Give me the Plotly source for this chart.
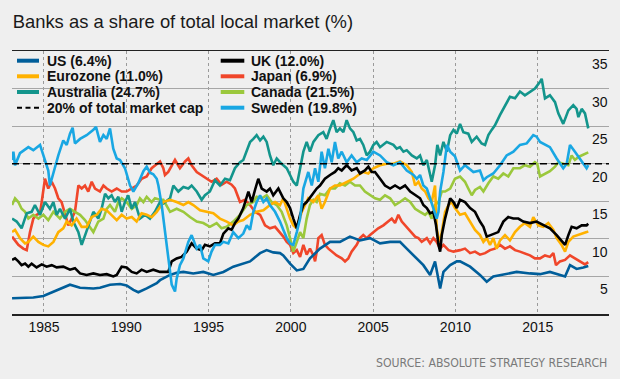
import plotly.graph_objects as go

# ---------------- data ----------------
title_text = "Banks as a share of total local market (%)"
source_text = "SOURCE: ABSOLUTE STRATEGY RESEARCH"
x_tick_years = [1985, 1990, 1995, 2000, 2005, 2010, 2015]
x_tick_labels = ["1985", "1990", "1995", "2000", "2005", "2010", "2015"]
y_tick_values = [5, 10, 15, 20, 25, 30, 35]
threshold = 20
threshold_label = "20% of total market cap"

us_years = [1983.06, 1984.35, 1984.96, 1985.57, 1986.38, 1986.58, 1987.19, 1988.0, 1988.4, 1989.01, 1989.62, 1990.02, 1990.43, 1990.73, 1991.24, 1991.85,
            1992.05, 1992.66, 1993.06, 1993.47, 1994.07, 1994.68, 1995.29, 1995.9, 1996.5, 1997.11, 1997.52, 1998.13, 1998.53, 1998.93, 1999.34, 1999.54, 1999.95, 2000.36, 2000.76,
            2001.16, 2001.77, 2002.38, 2002.98, 2003.59, 2004.2, 2004.81, 2005.42, 2006.03, 2006.63, 2007.04, 2007.65, 2008.05, 2008.46, 2008.76, 2009.07, 2009.27, 2009.68, 2010.08,
            2010.28, 2010.89, 2011.49, 2011.9, 2012.3, 2012.91, 2013.72, 2014.53, 2015.14, 2015.74, 2016.35, 2016.66, 2016.96, 2017.36, 2017.77, 2018.07]
us_values = [2.1, 2.2, 2.4, 3.0, 3.8, 3.9, 3.5, 3.4, 3.5, 3.9, 4.0, 3.8, 3.2, 2.9, 3.4, 4.1,
             4.5, 5.2, 5.5, 5.6, 5.4, 5.6, 5.2, 5.6, 6.3, 6.7, 7.0, 8.1, 8.5, 8.2, 8.1, 7.8, 6.7, 5.8, 6.0,
             7.4, 8.7, 9.6, 9.6, 10.3, 9.8, 10.1, 9.4, 9.6, 9.6, 8.7, 7.4, 6.5, 5.2, 7.0, 3.4, 5.6, 6.5, 7.0,
             7.0, 6.3, 5.2, 4.3, 5.0, 5.3, 5.6, 5.4, 5.3, 5.6, 5.2, 5.0, 6.5, 6.0, 6.2, 6.4]

uk_years = [1983.06, 1983.24, 1983.44, 1983.64, 1983.85, 1984.05, 1984.25, 1984.55, 1984.86, 1985.16, 1985.47, 1985.77, 1986.17, 1986.58, 1986.88, 1987.19, 1987.59, 1988.0, 1988.4, 1988.81, 1989.21, 1989.42, 1989.72, 1990.02, 1990.33, 1990.63, 1990.93, 1991.24, 1991.64,
            1992.05, 1992.55, 1992.76, 1993.06, 1993.36, 1993.67, 1993.97, 1994.28, 1994.58, 1994.78, 1995.08, 1995.39, 1995.69, 1995.9, 1996.2, 1996.4, 1996.6, 1996.81, 1997.11, 1997.42, 1997.62, 1997.82, 1998.02, 1998.23, 1998.53, 1998.73, 1998.93, 1999.24, 1999.54, 1999.75, 1999.95, 2000.15, 2000.36, 2000.56, 2000.76, 2000.96,
            2001.27, 2001.57, 2001.77, 2002.07, 2002.38, 2002.68, 2002.88, 2003.09, 2003.39, 2003.69, 2004.0, 2004.2, 2004.5, 2004.71, 2004.91, 2005.11, 2005.42, 2005.72, 2006.03, 2006.33, 2006.63, 2006.94, 2007.25, 2007.55, 2007.85, 2008.05, 2008.26, 2008.46, 2008.66, 2008.82, 2008.97, 2009.07, 2009.17, 2009.37, 2009.68, 2009.88,
            2010.08, 2010.28, 2010.58, 2010.89, 2011.19, 2011.49, 2011.7, 2011.9, 2012.1, 2012.3, 2012.6, 2012.91, 2013.21, 2013.52, 2013.82, 2014.12, 2014.53, 2014.93, 2015.34, 2015.74, 2016.15, 2016.45, 2016.66, 2016.86, 2017.06, 2017.36, 2017.67, 2017.97, 2018.07]
uk_values = [7.2, 7.4, 7.0, 6.5, 6.7, 6.3, 6.7, 6.2, 6.6, 6.3, 6.5, 6.2, 6.3, 5.9, 6.1, 5.4, 5.2, 5.4, 5.2, 5.3, 5.0, 5.2, 6.3, 6.2, 5.6, 5.4, 5.9, 5.6, 5.9,
             5.6, 5.6, 7.0, 7.4, 7.6, 8.3, 9.4, 8.7, 8.5, 9.2, 9.0, 9.4, 9.4, 10.7, 11.4, 11.2, 12.1, 12.7, 14.1, 16.3, 14.9, 16.5, 18.0, 16.7, 16.3, 16.7, 15.8, 16.7, 15.4, 14.9, 14.1, 12.7, 11.4, 13.2, 14.5, 14.9,
             15.8, 16.7, 17.1, 18.0, 18.5, 18.9, 19.4, 19.1, 19.8, 19.1, 19.4, 18.7, 19.1, 19.6, 18.9, 18.9, 18.0, 17.1, 16.7, 17.1, 16.7, 17.1, 16.3, 15.8, 15.4, 14.5, 14.1, 13.4, 13.6, 11.8, 9.2, 8.3, 10.5, 12.7, 15.4, 14.9,
             14.1, 15.2, 14.9, 14.1, 13.6, 12.3, 11.6, 10.3, 10.5, 10.7, 10.9, 12.3, 12.9, 12.7, 12.7, 12.3, 12.1, 12.3, 11.8, 11.4, 10.5, 9.8, 9.2, 10.5, 11.6, 11.4, 11.8, 11.8, 12.0]

eurozone_years = [1983.06, 1983.24, 1983.54, 1983.85, 1984.05, 1984.35, 1984.66, 1984.96, 1985.26, 1985.57, 1985.87, 1986.17, 1986.38, 1986.68, 1986.98, 1987.29, 1987.59, 1987.9, 1988.2, 1988.5, 1988.81, 1989.11, 1989.42, 1989.72, 1990.02, 1990.33, 1990.63, 1990.93, 1991.24, 1991.54,
                  1991.85, 1992.25, 1992.66, 1993.06, 1993.47, 1993.77, 1994.07, 1994.48, 1994.88, 1995.29, 1995.69, 1996.1, 1996.5, 1996.81, 1997.11, 1997.52, 1997.92, 1998.33, 1998.73, 1999.04, 1999.34, 1999.54, 1999.75, 1999.95, 2000.15, 2000.36, 2000.66,
                  2000.86, 2001.06, 2001.37, 2001.67, 2001.87, 2002.07, 2002.38, 2002.68, 2002.98, 2003.39, 2003.8, 2004.1, 2004.4, 2004.71, 2005.01, 2005.42, 2005.82, 2006.23, 2006.63, 2007.04, 2007.35, 2007.55, 2007.75, 2007.95, 2008.16, 2008.36, 2008.56, 2008.76, 2008.86, 2008.97, 2009.07, 2009.17, 2009.37, 2009.58, 2009.78,
                  2009.97, 2010.28, 2010.58, 2010.89, 2011.19, 2011.49, 2011.7, 2011.9, 2012.1, 2012.3, 2012.5, 2012.71, 2013.01, 2013.31, 2013.62, 2013.92, 2014.22, 2014.53, 2014.73, 2015.03, 2015.34, 2015.64, 2015.95, 2016.15, 2016.45, 2016.66, 2016.86, 2017.16, 2017.47, 2017.77, 2017.97, 2018.07]
eurozone_values = [10.9, 11.2, 10.1, 9.4, 9.6, 10.3, 9.6, 9.2, 9.0, 9.6, 10.9, 11.4, 12.3, 11.8, 12.7, 11.6, 11.6, 12.9, 13.2, 14.0, 13.8, 13.2, 12.5, 13.2, 12.7, 12.9, 12.3, 13.4, 13.2, 12.9,
                   13.6, 14.9, 15.2, 14.9, 14.5, 14.9, 14.5, 13.8, 13.6, 13.4, 12.7, 12.3, 11.8, 12.3, 12.5, 13.2, 13.6, 13.8, 14.5, 14.9, 14.5, 15.4, 14.0, 12.7, 11.8, 11.4, 13.6,
                   14.5, 15.4, 14.9, 15.8, 14.0, 14.9, 16.7, 17.1, 17.1, 17.6, 18.0, 18.5, 18.9, 18.7, 19.4, 19.8, 20.0, 20.0, 20.3, 19.8, 18.9, 17.1, 17.6, 16.7, 16.3, 15.4, 14.9, 17.1, 11.4, 10.1, 9.6, 10.9, 13.6, 14.5, 14.9,
                   14.1, 13.2, 13.4, 12.3, 11.2, 10.5, 9.6, 10.1, 9.2, 10.1, 8.7, 9.8, 10.5, 9.8, 10.9, 11.6, 12.1, 11.6, 12.9, 11.8, 11.6, 12.1, 11.2, 10.1, 9.2, 8.3, 9.6, 10.3, 10.5, 10.7, 10.9, 11.0]

japan_years = [1983.06, 1983.24, 1983.44, 1983.74, 1983.95, 1984.15, 1984.35, 1984.55, 1984.76, 1984.86, 1985.06, 1985.26, 1985.47, 1985.67, 1985.87, 1986.07, 1986.28, 1986.48, 1986.68, 1986.88, 1987.09, 1987.29, 1987.49, 1987.69, 1987.9, 1988.1, 1988.4, 1988.61, 1988.81, 1989.11, 1989.42, 1989.72, 1990.02, 1990.33, 1990.63, 1990.93, 1991.24, 1991.54, 1991.74,
               1992.05, 1992.25, 1992.35, 1992.55, 1992.76, 1992.96, 1993.26, 1993.57, 1993.77, 1993.97, 1994.28, 1994.58, 1994.88, 1995.18, 1995.49, 1995.79, 1996.1, 1996.4, 1996.6, 1996.91, 1997.21, 1997.52, 1997.82, 1998.13, 1998.43, 1998.73, 1999.04, 1999.34, 1999.54, 1999.75, 1999.95, 2000.15, 2000.36, 2000.56,
               2000.76, 2000.96, 2001.16, 2001.37, 2001.47, 2001.57, 2001.67, 2001.87, 2002.07, 2002.28, 2002.48, 2002.78, 2003.09, 2003.29, 2003.49, 2003.69, 2004.0, 2004.2, 2004.4, 2004.61, 2004.81, 2005.01, 2005.31, 2005.62, 2005.92, 2006.13, 2006.33, 2006.53, 2006.74, 2006.94, 2007.25, 2007.55, 2007.75, 2007.95, 2008.26, 2008.46, 2008.66, 2008.86, 2009.07, 2009.27, 2009.58, 2009.88,
               2010.28, 2010.58, 2010.89, 2011.19, 2011.49, 2011.8, 2012.1, 2012.4, 2012.71, 2013.01, 2013.31, 2013.62, 2013.92, 2014.22, 2014.53, 2014.83, 2015.14, 2015.44, 2015.74, 2015.95, 2016.11, 2016.35, 2016.66, 2016.96, 2017.26, 2017.57, 2017.87, 2018.07]
japan_values = [10.3, 9.8, 9.2, 8.7, 8.5, 10.9, 12.7, 13.2, 13.4, 14.9, 18.0, 16.7, 17.6, 16.7, 15.4, 14.9, 13.2, 11.8, 12.7, 13.6, 17.1, 16.7, 17.1, 16.3, 17.6, 16.7, 16.3, 17.1, 16.7, 16.3, 16.7, 16.3, 16.3, 16.7, 17.1, 18.0, 18.3, 19.4, 19.8,
                20.3, 19.4, 18.5, 18.9, 19.8, 20.5, 19.4, 20.3, 20.7, 19.8, 18.9, 18.5, 18.0, 17.6, 18.0, 17.2, 17.6, 17.2, 16.7, 14.9, 15.2, 14.5, 13.6, 13.2, 11.8, 11.4, 11.6, 10.9, 10.3, 9.6, 9.2, 8.1, 8.5, 7.6,
                9.2, 7.9, 8.7, 7.8, 7.0, 8.3, 10.1, 10.5, 9.2, 8.7, 8.3, 7.8, 7.4, 7.0, 7.4, 8.3, 9.2, 10.1, 10.5, 10.1, 10.5, 10.9, 11.4, 11.8, 12.3, 12.7, 12.1, 13.2, 12.3, 11.8, 10.9, 10.3, 10.1, 9.6, 10.1, 9.4, 10.1, 9.6, 8.7, 9.2, 8.5, 8.3,
                8.5, 8.7, 8.1, 8.3, 7.9, 8.1, 8.5, 8.7, 9.2, 8.7, 9.0, 8.5, 8.3, 8.1, 7.8, 7.4, 7.4, 7.8, 7.6, 8.1, 6.5, 7.0, 7.2, 7.8, 7.4, 7.0, 6.6, 6.9]

australia_years = [1983.06, 1983.34, 1983.64, 1983.95, 1984.25, 1984.45, 1984.76, 1985.06, 1985.36, 1985.57, 1985.77, 1985.97, 1986.28, 1986.58, 1986.78, 1987.09, 1987.29, 1987.49, 1987.69, 1988.0, 1988.3, 1988.5, 1988.71, 1988.91, 1989.11, 1989.31, 1989.52, 1989.72, 1989.92, 1990.12, 1990.33, 1990.53, 1990.83, 1991.14, 1991.44, 1991.74, 1992.05,
                   1992.25, 1992.66, 1992.86, 1993.16, 1993.47, 1993.77, 1993.97, 1994.28, 1994.58, 1994.78, 1995.08, 1995.39, 1995.69, 1996.0, 1996.3, 1996.6, 1996.91, 1997.11, 1997.32, 1997.52, 1997.72, 1997.92, 1998.13, 1998.33, 1998.53, 1998.73, 1998.93, 1999.14, 1999.34, 1999.54, 1999.75, 1999.95, 2000.15, 2000.36, 2000.56, 2000.76, 2000.96,
                   2001.16, 2001.37, 2001.67, 2001.97, 2002.17, 2002.38, 2002.58, 2002.78, 2002.98, 2003.19, 2003.39, 2003.59, 2003.8, 2004.0, 2004.2, 2004.4, 2004.61, 2004.81, 2005.01, 2005.21, 2005.42, 2005.82, 2006.23, 2006.43, 2006.63, 2006.84, 2007.04, 2007.35, 2007.65, 2007.85, 2008.05, 2008.26, 2008.46, 2008.56, 2008.76, 2008.9, 2009.07, 2009.27, 2009.48, 2009.68,
                   2009.88, 2010.08, 2010.28, 2010.48, 2010.78, 2010.99, 2011.29, 2011.59, 2011.8, 2012.0, 2012.2, 2012.4, 2012.71, 2013.01, 2013.31, 2013.62, 2013.92, 2014.22, 2014.53, 2014.83, 2015.14, 2015.24, 2015.44, 2015.74, 2016.05, 2016.25, 2016.55, 2016.86, 2017.16, 2017.36, 2017.47, 2017.67, 2017.87, 2018.07]
australia_values = [12.7, 12.3, 11.4, 13.4, 13.6, 14.5, 13.2, 14.9, 14.0, 14.9, 13.2, 14.0, 12.7, 14.0, 12.3, 10.9, 9.2, 10.5, 11.8, 13.6, 12.7, 14.0, 16.0, 15.4, 15.8, 14.9, 15.6, 13.6, 14.9, 15.8, 14.0, 14.9, 12.7, 13.2, 12.7, 13.6, 14.9,
                    14.7, 15.4, 17.1, 16.3, 16.9, 16.7, 17.1, 16.3, 15.2, 15.8, 16.3, 17.8, 17.1, 18.0, 17.8, 19.4, 20.2, 20.5, 21.6, 22.9, 23.3, 23.8, 23.1, 23.6, 22.9, 21.1, 19.8, 20.7, 20.2, 19.8, 19.4, 18.5, 17.6, 17.1, 19.4, 21.6, 22.9,
                    21.6, 22.9, 23.8, 24.2, 23.3, 24.7, 25.8, 24.2, 24.7, 24.2, 25.8, 24.7, 24.2, 23.1, 23.3, 22.5, 21.1, 21.6, 22.5, 22.9, 22.2, 22.9, 22.5, 22.0, 22.2, 21.6, 21.8, 21.1, 20.7, 21.1, 19.8, 20.5, 18.5, 17.6, 19.8, 22.5, 21.1, 22.9, 21.6, 23.8,
                    24.5, 24.0, 25.3, 24.2, 24.0, 22.9, 23.6, 22.7, 22.5, 23.8, 24.5, 25.1, 26.5, 27.8, 28.9, 28.7, 29.6, 29.1, 29.6, 30.0, 30.9, 31.3, 28.7, 29.1, 28.2, 26.7, 25.3, 27.1, 27.8, 27.3, 26.2, 27.3, 26.7, 24.7]

canada_years = [1983.06, 1983.24, 1983.44, 1983.64, 1983.85, 1984.05, 1984.35, 1984.66, 1984.96, 1985.26, 1985.57, 1985.97, 1986.28, 1986.58, 1986.88, 1987.19, 1987.49, 1987.69, 1988.0, 1988.3, 1988.61, 1988.81, 1989.01, 1989.31, 1989.52, 1989.72, 1990.02, 1990.33, 1990.63, 1990.83, 1991.04, 1991.24, 1991.54, 1991.74,
                1992.05, 1992.25, 1992.66, 1993.06, 1993.47, 1993.87, 1994.28, 1994.68, 1995.08, 1995.49, 1995.79, 1996.1, 1996.5, 1996.91, 1997.32, 1997.72, 1997.92, 1998.23, 1998.53, 1998.83, 1999.14, 1999.44, 1999.75, 1999.95, 2000.15, 2000.36, 2000.56, 2000.76,
                2000.96, 2001.16, 2001.37, 2001.57, 2001.77, 2002.07, 2002.38, 2002.68, 2002.98, 2003.29, 2003.59, 2003.9, 2004.2, 2004.5, 2004.81, 2005.11, 2005.42, 2005.72, 2006.03, 2006.33, 2006.63, 2006.94, 2007.25, 2007.55, 2007.85, 2008.16, 2008.36, 2008.56, 2008.76, 2008.97, 2009.17, 2009.37, 2009.68,
                2009.97, 2010.28, 2010.58, 2010.78, 2010.99, 2011.19, 2011.49, 2011.7, 2012.0, 2012.3, 2012.6, 2012.91, 2013.21, 2013.52, 2013.92, 2014.22, 2014.53, 2014.83, 2014.97, 2015.14, 2015.44, 2015.74, 2016.05, 2016.25, 2016.55, 2016.86, 2017.06, 2017.26, 2017.47, 2017.67, 2017.87, 2018.07]
canada_values = [14.5, 15.4, 14.9, 14.0, 13.6, 12.7, 13.2, 12.7, 13.2, 12.5, 13.6, 12.7, 13.6, 14.0, 13.6, 13.2, 12.5, 11.8, 10.9, 12.3, 12.7, 14.0, 14.5, 13.6, 14.9, 15.4, 14.9, 14.0, 14.5, 15.4, 14.9, 15.6, 14.9, 15.4,
                 15.2, 15.2, 13.6, 14.0, 13.6, 12.9, 12.3, 12.1, 11.6, 12.1, 11.4, 11.6, 12.3, 13.2, 14.5, 14.9, 15.6, 15.4, 15.8, 14.9, 14.5, 13.6, 11.8, 10.1, 8.3, 9.6, 10.9, 10.1,
                 12.7, 14.5, 15.2, 14.9, 16.0, 15.8, 16.7, 16.7, 17.4, 17.1, 17.6, 17.1, 17.1, 16.3, 15.8, 15.4, 15.2, 15.8, 15.4, 14.5, 14.9, 15.4, 14.9, 14.0, 13.6, 13.2, 13.6, 12.7, 14.5, 14.9, 16.3, 16.3, 16.7,
                 18.0, 18.3, 17.6, 16.7, 15.8, 16.5, 16.9, 16.3, 17.4, 18.3, 18.0, 18.7, 18.3, 19.4, 19.4, 19.8, 19.6, 20.2, 20.0, 18.3, 18.7, 19.0, 19.6, 20.2, 20.0, 19.8, 21.1, 20.5, 20.9, 21.1, 21.3, 21.5]

sweden_years = [1983.06, 1983.14, 1983.24, 1983.54, 1984.05, 1984.35, 1984.76, 1984.96, 1985.26, 1985.36, 1985.57, 1985.87, 1986.17, 1986.38, 1986.58, 1986.74, 1986.88, 1987.19, 1987.59, 1988.0, 1988.16, 1988.4, 1988.61, 1988.81, 1989.01, 1989.21, 1989.42, 1989.62, 1989.92, 1990.23, 1990.43, 1990.73, 1991.04, 1991.24, 1991.44, 1991.64, 1991.85, 1991.95,
                1992.15, 1992.35, 1992.55, 1992.76, 1992.96, 1993.06, 1993.26, 1993.47, 1993.77, 1993.97, 1994.28, 1994.48, 1994.68, 1994.98, 1995.18, 1995.39, 1995.69, 1995.9, 1996.2, 1996.5, 1996.81, 1997.11, 1997.32, 1997.52, 1997.72, 1997.92, 1998.13, 1998.33, 1998.53, 1998.73, 1999.04, 1999.34, 1999.54, 1999.75, 1999.95, 2000.15, 2000.36, 2000.56, 2000.76, 2000.96,
                2001.06, 2001.27, 2001.47, 2001.67, 2001.87, 2002.07, 2002.28, 2002.48, 2002.68, 2002.88, 2003.09, 2003.39, 2003.69, 2004.0, 2004.3, 2004.61, 2004.81, 2005.01, 2005.42, 2005.82, 2006.23, 2006.63, 2007.04, 2007.45, 2007.65, 2007.85, 2008.05, 2008.26, 2008.46, 2008.66, 2008.86, 2008.97, 2009.07, 2009.27, 2009.48, 2009.68,
                2009.97, 2010.28, 2010.58, 2011.09, 2011.49, 2011.7, 2011.9, 2012.3, 2012.71, 2013.11, 2013.52, 2013.92, 2014.33, 2014.73, 2014.93, 2015.14, 2015.54, 2015.74, 2016.15, 2016.55, 2016.76, 2016.96, 2017.26, 2017.57, 2017.77, 2017.97, 2018.07]
sweden_values = [20.5, 21.6, 19.8, 21.4, 22.2, 21.8, 22.5, 21.1, 19.1, 17.1, 18.9, 21.1, 23.1, 22.5, 24.0, 24.8, 22.7, 23.3, 23.8, 24.5, 24.9, 22.9, 23.8, 23.3, 24.7, 22.0, 20.7, 20.5, 19.4, 17.1, 16.3, 17.4, 19.0, 19.6, 18.8, 18.6, 18.0, 17.1,
                 14.5, 10.9, 7.4, 3.9, 3.0, 4.7, 6.5, 7.4, 9.6, 10.5, 8.7, 9.2, 7.4, 7.0, 8.3, 9.2, 9.2, 9.6, 9.4, 10.9, 10.1, 10.7, 11.8, 11.2, 13.6, 14.9, 15.8, 14.9, 15.4, 14.5, 13.6, 12.3, 11.2, 10.1, 9.4, 9.2, 10.9, 12.7, 16.7, 18.0,
                 18.9, 17.1, 19.4, 17.6, 21.6, 19.4, 22.0, 20.2, 22.9, 20.7, 21.6, 20.2, 21.1, 20.2, 20.7, 20.5, 21.1, 21.6, 21.1, 20.2, 19.8, 20.2, 19.1, 18.5, 18.0, 18.5, 17.1, 16.7, 15.4, 14.0, 12.7, 13.6, 16.3, 18.9, 22.5, 21.6,
                 21.0, 19.1, 19.8, 18.9, 19.1, 17.8, 18.2, 18.7, 19.8, 21.1, 21.6, 22.5, 22.7, 23.8, 23.6, 22.9, 22.5, 22.2, 20.7, 19.4, 20.0, 22.5, 21.6, 20.7, 20.0, 19.4, 19.8]

# legend entries, in the reference's two-column order
series = [
    # (label, years, values, colour)
    ("US (6.4%)", us_years, us_values, "#005e9a"),
    ("UK (12.0%)", uk_years, uk_values, "#000000"),
    ("Eurozone (11.0%)", eurozone_years, eurozone_values, "#ffb100"),
    ("Japan (6.9%)", japan_years, japan_values, "#f0462a"),
    ("Australia (24.7%)", australia_years, australia_values, "#13958c"),
    ("Canada (21.5%)", canada_years, canada_values, "#9bc83c"),
    (threshold_label, None, None, "#000000"),
    ("Sweden (19.8%)", sweden_years, sweden_values, "#19a7e3"),
]
draw_order = ["Japan (6.9%)", "US (6.4%)", "Canada (21.5%)", "Australia (24.7%)",
              "Eurozone (11.0%)", "UK (12.0%)", "Sweden (19.8%)"]

# ---------------- figure ----------------
BG = "#efefef"
FONT = "Liberation Sans, Arial, Helvetica, sans-serif"
NARROW = "Liberation Sans Narrow, Arial Narrow, DejaVu Sans Condensed, sans-serif"
X0, X1 = 1983.056, 2019.33

fig = go.Figure()
lookup = {s[0]: s for s in series}
for name in draw_order:
    label, xs, ys, col = lookup[name]
    fig.add_trace(go.Scatter(x=xs, y=ys, mode="lines", name=label,
                             line=dict(color=col, width=2.6, shape="linear"),
                             hoverinfo="skip", showlegend=False))
fig.add_trace(go.Scatter(x=[X0, X1], y=[threshold, threshold], mode="lines",
                         name=threshold_label, line=dict(color="#000000", width=1.6, dash="7px,4px"),
                         hoverinfo="skip", showlegend=False))

ML, MR, MT, MB = 12, 11, 51, 65
W, H = 620, 379
PW, PH = W - ML - MR, H - MT - MB

def px_x(p):
    return (p - ML) / PW

def px_y(p):
    return (H - MB - p) / PH

shapes = []
annotations = []
# opaque legend panel that hides the grid behind it
shapes.append(dict(type="rect", xref="paper", yref="paper", x0=0, x1=px_x(360),
                   y0=px_y(121.7), y1=1, fillcolor=BG, line=dict(width=0), layer="between"))
row_y = [60.7, 76.3, 92.0, 107.7]
col_sym = [(17, 39, 45), (220.7, 244.3, 249)]
for i, (label, xs, ys, col) in enumerate(series):
    r, c = divmod(i, 2)
    sx0, sx1, tx = col_sym[c]
    yy = px_y(row_y[r])
    if xs is None:
        shapes.append(dict(type="line", xref="paper", yref="paper", x0=px_x(sx0), x1=px_x(sx1),
                           y0=yy, y1=yy, line=dict(color=col, width=2, dash="5px,3.5px"), layer="above"))
    else:
        shapes.append(dict(type="line", xref="paper", yref="paper", x0=px_x(sx0), x1=px_x(sx1),
                           y0=yy, y1=yy, line=dict(color=col, width=4), layer="above"))
    annotations.append(dict(text="<b>%s</b>" % label, xref="paper", yref="paper", x=px_x(tx), y=yy,
                            xanchor="left", yanchor="middle", showarrow=False,
                            font=dict(family=FONT, size=14, color="#111111")))

# y tick labels sit just under their gridlines at the right edge
for v in y_tick_values:
    annotations.append(dict(text=str(v), xref="paper", yref="y", x=px_x(609.5), y=v,
                            xanchor="right", yanchor="top", yshift=-3, showarrow=False,
                            font=dict(family=FONT, size=14, color="#111111")))

annotations.append(dict(text=source_text, xref="paper", yref="paper", x=px_x(608.5), y=px_y(362.7),
                        xanchor="right", yanchor="middle", showarrow=False,
                        font=dict(family=NARROW, size=12.2, color="#7a7a7a")))

fig.update_layout(
    width=W, height=H,
    margin=dict(l=ML, r=MR, t=MT, b=MB, pad=0),
    paper_bgcolor=BG, plot_bgcolor=BG,
    showlegend=False,
    title=dict(text=title_text, x=12.7 / W, xanchor="left", y=1 - 21.5 / H, yanchor="middle",
               font=dict(family=FONT, size=18.4, color="#1a1a1a")),
    xaxis=dict(range=[X0, X1], tickvals=x_tick_years, ticktext=x_tick_labels,
               showgrid=True, gridcolor="#9a9a9a", griddash="dot", gridwidth=1,
               showline=True, mirror=True, linecolor="#222222", linewidth=1.5,
               ticks="", zeroline=False,
               tickfont=dict(family=FONT, size=14, color="#111111")),
    yaxis=dict(range=[0, 35], tickvals=y_tick_values, side="right",
               showticklabels=False, ticks="",
               showgrid=True, gridcolor="#a6a6a6", gridwidth=1.2,
               zeroline=False, showline=False),
    shapes=shapes,
    annotations=annotations,
)

fig.write_html("out.html", config={"displayModeBar": False, "staticPlot": True},
               post_script="document.body.style.margin='0px';document.body.style.background='%s';" % BG)
